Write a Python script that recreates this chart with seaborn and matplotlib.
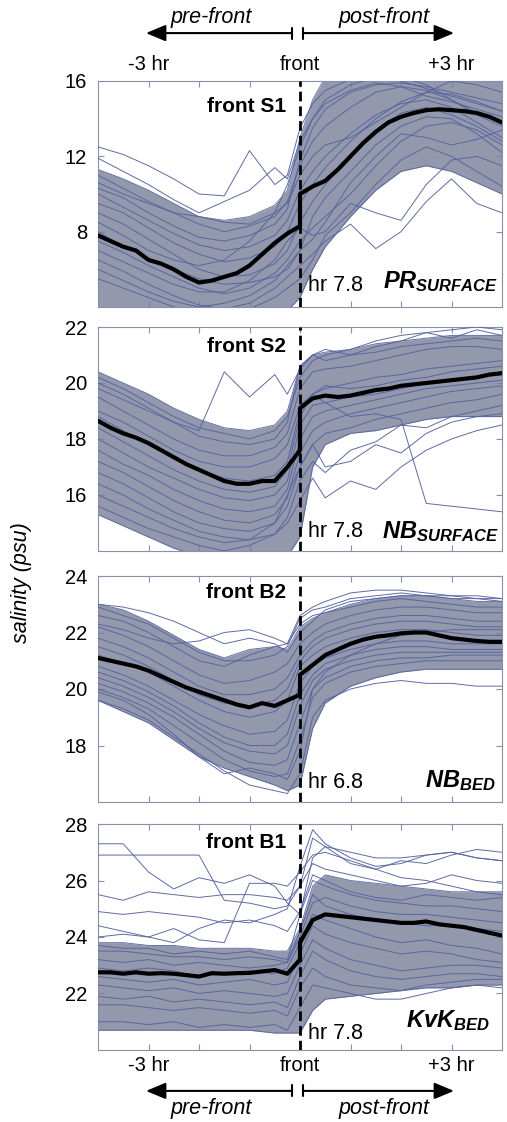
import matplotlib
matplotlib.use("Agg")
import matplotlib.pyplot as plt
import numpy as np
import pandas as pd
import seaborn as sns

# ---------------- data ----------------
HOURS = [-4, -3.5, -3, -2.5, -2, -1.5, -1, -0.5, -0.25, 0, 0.25, 0.5, 1, 1.5, 2, 2.5, 3, 3.5, 4]
MEAN_HOURS = [-4, -3.75, -3.5, -3.25, -3, -2.75, -2.5, -2.25, -2, -1.75, -1.5, -1.25, -1, -0.75,
              -0.5, -0.25, 0, 0, 0.25, 0.5, 0.75, 1, 1.25, 1.5, 1.75, 2, 2.25, 2.5, 2.75, 3,
              3.25, 3.5, 3.75, 4]

STATIONS = ["PR", "NB", "NB", "KvK"]
DEPTHS = ["SURFACE", "SURFACE", "BED", "BED"]
FRONT_NAMES = ["front S1", "front S2", "front B2", "front B1"]
FRONT_HOURS = ["hr 7.8", "hr 7.8", "hr 6.8", "hr 7.8"]
YTICKS = [[8, 12, 16], [16, 18, 20, 22], [18, 20, 22, 24], [22, 24, 26, 28]]
YLIMS = [(4, 16), (14, 22), (16, 24), (20, 28)]
XTICKS = [-3, -2, -1, 0, 1, 2, 3]
XTICK_LABELS = ["-3 hr", "", "", "front", "", "", "+3 hr"]

# ensemble mean (thick black)
MEAN_PR_S = [7.8, 7.5, 7.2, 7.0, 6.5, 6.3, 6.0, 5.6, 5.3, 5.4, 5.6, 5.8, 6.2, 6.8, 7.4, 7.9,
             8.3, 10.0, 10.4, 10.7, 11.3, 12.0, 12.7, 13.3, 13.8, 14.1, 14.3, 14.45, 14.5,
             14.45, 14.4, 14.3, 14.1, 13.8]
MEAN_NB_S = [18.65, 18.4, 18.2, 18.05, 17.85, 17.6, 17.35, 17.1, 16.9, 16.7, 16.5, 16.4, 16.4,
             16.5, 16.5, 17.0, 17.6, 19.1, 19.45, 19.55, 19.5, 19.55, 19.65, 19.75, 19.8, 19.9,
             19.95, 20.0, 20.05, 20.1, 20.15, 20.2, 20.3, 20.35]
MEAN_NB_B = [21.1, 21.0, 20.9, 20.8, 20.65, 20.45, 20.25, 20.05, 19.9, 19.75, 19.6, 19.45, 19.35,
             19.5, 19.4, 19.6, 19.8, 20.5, 20.85, 21.2, 21.4, 21.6, 21.75, 21.85, 21.9, 21.97,
             22.0, 22.0, 21.9, 21.8, 21.75, 21.7, 21.67, 21.67]
MEAN_KVK_B = [22.75, 22.75, 22.7, 22.75, 22.7, 22.72, 22.7, 22.65, 22.6, 22.72, 22.7, 22.72,
              22.73, 22.78, 22.83, 22.7, 23.2, 23.8, 24.6, 24.8, 24.75, 24.7, 24.65, 24.6, 24.55,
              24.5, 24.5, 24.55, 24.45, 24.4, 24.35, 24.25, 24.15, 24.05]

# dense envelope of the individual fronts
UPPER_PR_S = [11.3, 10.8, 10.2, 9.5, 8.8, 8.6, 8.8, 9.4, 10.2, 13.0, 15.0, 16.2, 16.2, 16.2, 16.2, 16.2, 16.2, 16.2, 16.2]
LOWER_PR_S = [3.8, 3.8, 3.8, 3.8, 3.8, 3.8, 3.8, 3.8, 3.8, 4.5, 6.0, 7.2, 8.8, 10.2, 11.2, 11.5, 11.2, 10.6, 10.0]
UPPER_NB_S = [20.4, 20.0, 19.6, 19.1, 18.7, 18.4, 18.3, 18.5, 19.0, 20.6, 21.0, 21.1, 21.2, 21.4, 21.5, 21.6, 21.7, 21.7, 21.7]
LOWER_NB_S = [15.3, 14.9, 14.5, 14.1, 13.8, 13.8, 13.8, 13.8, 13.8, 14.5, 17.0, 17.8, 18.2, 18.3, 18.5, 18.7, 18.8, 18.8, 18.8]
UPPER_NB_B = [23.0, 22.8, 22.4, 21.9, 21.4, 21.1, 21.4, 21.5, 21.4, 22.2, 22.5, 22.7, 23.0, 23.2, 23.3, 23.3, 23.2, 23.1, 23.1]
LOWER_NB_B = [19.6, 19.2, 18.8, 18.2, 17.6, 17.2, 16.9, 16.6, 16.4, 16.6, 18.6, 19.5, 20.1, 20.4, 20.6, 20.7, 20.7, 20.7, 20.7]
UPPER_KVK_B = [23.8, 23.8, 23.7, 23.7, 23.6, 23.6, 23.6, 23.5, 23.5, 24.3, 25.8, 26.2, 26.0, 25.9, 25.8, 25.7, 25.6, 25.6, 25.6]
LOWER_KVK_B = [20.7, 20.7, 20.7, 20.7, 20.7, 20.7, 20.7, 20.6, 20.6, 20.6, 21.4, 21.8, 21.9, 22.0, 22.1, 22.2, 22.2, 22.3, 22.3]

# individual front records (sample)
MEMBERS_PR_S = [
    [12.5, 12.1, 11.5, 10.8, 10.0, 9.9, 12.3, 10.5, 11.0, 13.5, 14.8, 15.5, 16.1, 16.3, 16.0, 15.6, 15.2, 14.8, 14.4],
    [11.9, 11.2, 10.5, 9.7, 9.0, 9.6, 10.2, 11.4, 10.8, 12.8, 14.0, 14.8, 15.5, 15.9, 15.7, 15.2, 14.9, 14.5, 14.1],
    [11.0, 10.3, 9.6, 9.0, 8.4, 8.0, 8.3, 8.8, 9.6, 11.5, 12.8, 13.6, 14.6, 15.4, 15.7, 15.5, 15.0, 14.2, 13.6],
    [10.0, 9.3, 8.6, 7.9, 7.3, 7.0, 7.2, 7.8, 8.6, 10.2, 11.2, 12.0, 13.2, 14.2, 14.8, 15.0, 14.6, 13.8, 13.0],
    [9.0, 8.4, 7.6, 6.8, 6.0, 5.6, 5.7, 6.3, 7.0, 8.5, 9.6, 10.5, 12.0, 13.4, 14.3, 14.6, 14.2, 13.6, 12.8],
    [7.5, 6.9, 6.2, 5.6, 5.0, 4.7, 5.0, 5.8, 6.5, 7.5, 8.2, 8.8, 10.0, 11.5, 12.8, 13.6, 13.8, 13.4, 12.6],
    [6.5, 5.9, 5.2, 4.6, 4.1, 3.9, 4.2, 5.0, 5.6, 6.2, 6.8, 7.5, 8.4, 7.1, 8.0, 9.6, 10.8, 9.5, 9.0],
    [5.5, 5.0, 4.5, 4.0, 3.8, 3.8, 3.9, 4.5, 5.0, 5.5, 6.5, 7.8, 9.0, 10.5, 11.8, 12.5, 12.0, 11.2, 10.4],
    [8.5, 7.8, 7.0, 6.5, 6.2, 6.5, 7.5, 9.0, 10.5, 12.5, 14.0, 15.0, 15.8, 16.2, 16.2, 15.8, 15.0, 14.3, 13.8],
    [10.6, 10.0, 9.5, 9.0, 8.8, 8.5, 8.4, 9.0, 9.5, 11.0, 12.0, 12.6, 13.0, 13.8, 14.6, 15.4, 16.0, 15.8, 15.4],
    [7.0, 6.4, 5.8, 5.2, 4.8, 4.8, 5.4, 6.5, 7.5, 8.2, 7.8, 8.0, 9.5, 9.0, 8.6, 10.5, 11.8, 12.0, 11.5],
    [9.5, 9.0, 8.2, 7.4, 6.8, 6.4, 6.6, 7.2, 8.0, 9.5, 10.5, 11.4, 12.8, 14.0, 14.9, 15.4, 15.3, 14.9, 14.4],
    [8.0, 7.2, 6.6, 6.0, 5.5, 5.2, 5.3, 5.6, 6.0, 7.0, 8.8, 9.8, 11.2, 12.6, 13.6, 14.1, 14.0, 13.2, 12.2],
    [10.3, 9.8, 9.0, 8.3, 7.7, 7.5, 7.8, 8.4, 9.2, 11.8, 13.5, 14.5, 15.4, 15.8, 15.9, 15.7, 15.4, 15.1, 14.8],
    [6.0, 5.4, 4.8, 4.3, 4.0, 4.2, 4.6, 5.4, 6.2, 7.0, 7.6, 8.5, 10.6, 12.0, 13.2, 13.0, 12.6, 12.9, 13.4],
]
MEMBERS_NB_S = [
    [19.8, 19.4, 19.0, 18.6, 18.3, 20.4, 19.5, 20.3, 19.6, 20.5, 21.0, 21.2, 21.0, 21.3, 21.5, 21.8, 21.6, 21.9, 21.7],
    [20.2, 19.8, 19.3, 18.8, 18.4, 18.2, 18.0, 18.3, 18.8, 20.2, 20.8, 21.0, 21.2, 21.5, 21.7, 21.8, 21.9, 22.0, 21.9],
    [19.5, 19.0, 18.5, 18.0, 17.6, 17.4, 17.4, 17.7, 18.2, 19.8, 20.4, 20.5, 20.6, 20.8, 21.0, 21.2, 21.3, 21.3, 21.2],
    [18.8, 18.3, 17.8, 17.3, 16.9, 16.6, 16.5, 16.7, 17.2, 19.0, 19.6, 19.8, 20.0, 20.2, 20.3, 20.5, 20.6, 20.7, 20.8],
    [18.0, 17.5, 17.0, 16.6, 16.2, 15.9, 15.8, 16.0, 16.5, 18.5, 19.2, 19.3, 19.5, 19.6, 19.8, 20.0, 20.1, 20.2, 20.4],
    [17.2, 16.8, 16.3, 15.8, 15.4, 15.1, 15.0, 15.3, 15.9, 17.5, 18.3, 18.6, 18.9, 19.1, 19.3, 19.5, 19.7, 19.8, 19.9],
    [16.4, 16.0, 15.5, 15.1, 14.7, 14.5, 14.4, 14.6, 15.2, 16.5, 17.2, 16.8, 17.6, 17.9, 18.5, 18.4, 18.8, 19.0, 19.2],
    [19.0, 18.6, 18.1, 17.6, 17.2, 17.0, 17.0, 17.3, 17.8, 19.2, 19.6, 19.3, 18.8, 18.9, 18.7, 15.7, 15.6, 15.5, 15.4],
    [15.6, 15.2, 14.8, 14.5, 14.2, 14.0, 14.2, 14.6, 15.0, 15.8, 16.6, 15.9, 16.5, 16.2, 17.0, 17.6, 18.0, 18.3, 18.5],
    [16.0, 15.6, 15.2, 14.8, 14.5, 14.3, 14.4, 15.0, 16.0, 17.0, 17.8, 17.0, 17.2, 17.8, 17.5, 18.2, 18.6, 18.8, 18.9],
    [20.0, 19.6, 19.1, 18.6, 18.1, 17.9, 17.8, 18.0, 18.6, 20.6, 21.0, 20.8, 21.0, 21.1, 21.3, 21.4, 21.5, 21.6, 21.5],
    [18.4, 17.9, 17.4, 16.9, 16.5, 16.2, 16.1, 16.3, 16.9, 18.8, 19.6, 19.9, 19.8, 19.9, 20.1, 20.2, 20.4, 20.5, 20.6],
    [17.6, 17.1, 16.7, 16.2, 15.8, 15.5, 15.4, 15.6, 16.2, 18.0, 18.8, 19.0, 19.2, 19.4, 19.6, 19.8, 19.9, 20.0, 20.1],
    [16.8, 16.4, 15.9, 15.4, 15.0, 14.8, 14.7, 15.0, 15.6, 17.0, 17.8, 18.2, 18.4, 18.7, 18.9, 19.1, 19.3, 19.4, 19.6],
]
MEMBERS_NB_B = [
    [23.0, 22.9, 22.7, 22.4, 22.0, 21.6, 21.8, 21.6, 21.3, 22.0, 22.4, 22.8, 23.1, 23.2, 23.3, 23.3, 23.2, 23.2, 23.1],
    [22.6, 22.4, 22.0, 21.5, 21.0, 20.8, 21.2, 21.5, 21.6, 22.3, 22.6, 22.7, 22.9, 23.1, 23.2, 23.1, 23.0, 22.9, 22.9],
    [22.2, 21.9, 21.5, 21.0, 20.5, 20.2, 20.3, 20.6, 20.9, 21.6, 22.0, 22.3, 22.6, 22.8, 22.9, 22.9, 22.8, 22.7, 22.7],
    [21.8, 21.5, 21.1, 20.6, 20.1, 19.8, 19.8, 20.0, 20.4, 21.2, 21.7, 22.0, 22.3, 22.5, 22.6, 22.6, 22.5, 22.4, 22.4],
    [21.2, 20.9, 20.6, 20.1, 19.6, 19.2, 19.0, 19.2, 19.6, 20.8, 21.2, 21.5, 21.8, 22.0, 22.1, 22.1, 22.0, 21.9, 21.9],
    [20.8, 20.5, 20.1, 19.6, 19.1, 18.7, 18.4, 18.5, 18.9, 20.2, 20.8, 21.1, 21.4, 21.6, 21.7, 21.7, 21.6, 21.6, 21.6],
    [20.4, 20.1, 19.7, 19.2, 18.6, 18.1, 17.8, 17.7, 18.0, 19.4, 20.3, 20.7, 21.0, 21.2, 21.3, 21.3, 21.3, 21.3, 21.3],
    [20.0, 19.7, 19.3, 18.7, 18.1, 17.5, 17.1, 16.9, 17.0, 18.2, 19.7, 20.2, 20.6, 20.8, 20.9, 21.0, 21.0, 21.0, 21.0],
    [19.6, 19.3, 18.9, 18.3, 17.7, 17.1, 16.6, 16.4, 16.3, 17.0, 19.0, 19.6, 20.0, 20.2, 20.3, 20.2, 20.2, 20.1, 20.1],
    [22.3, 22.1, 21.8, 21.6, 21.7, 22.0, 22.1, 21.8, 21.6, 22.6, 22.9, 23.1, 23.4, 23.5, 23.5, 23.4, 23.3, 23.3, 23.2],
    [19.9, 19.6, 19.1, 18.4, 17.6, 17.0, 17.2, 17.0, 16.8, 17.8, 20.0, 20.6, 21.2, 21.6, 21.9, 22.0, 22.1, 22.1, 22.1],
    [22.9, 22.6, 22.3, 21.8, 21.3, 21.0, 21.0, 21.2, 21.5, 22.5, 22.8, 22.9, 23.2, 23.3, 23.4, 23.3, 23.3, 23.2, 23.2],
    [21.5, 21.2, 20.8, 20.3, 19.8, 19.5, 19.4, 19.6, 20.0, 21.0, 21.5, 21.8, 22.1, 22.3, 22.4, 22.4, 22.3, 22.2, 22.2],
    [20.6, 20.3, 19.9, 19.4, 18.8, 18.3, 18.0, 18.0, 18.4, 19.8, 20.5, 20.9, 21.2, 21.4, 21.5, 21.5, 21.4, 21.4, 21.4],
    [20.2, 19.9, 19.5, 19.0, 18.4, 17.8, 17.4, 17.3, 17.5, 18.8, 20.0, 20.4, 20.8, 21.0, 21.1, 21.1, 21.2, 21.2, 21.2],
]
MEMBERS_KVK_B = [
    [27.3, 27.3, 26.3, 25.7, 26.1, 25.9, 26.2, 25.8, 25.2, 24.8, 26.8, 27.2, 27.0, 26.8, 26.8, 26.9, 27.0, 26.8, 26.7],
    [26.9, 26.9, 26.9, 26.9, 26.9, 25.3, 25.2, 25.0, 25.1, 25.8, 26.6, 26.4, 26.2, 26.0, 25.8, 25.9, 26.2, 26.0, 25.9],
    [25.5, 25.3, 25.6, 25.5, 25.4, 25.5, 25.5, 25.4, 25.3, 25.8, 27.5, 27.2, 26.6, 26.4, 26.7, 26.6, 26.9, 27.1, 27.0],
    [24.9, 24.8, 24.9, 24.8, 24.7, 24.5, 24.6, 24.4, 24.2, 24.9, 26.2, 26.0, 25.6, 25.4, 25.3, 25.5, 25.4, 25.3, 25.4],
    [24.4, 24.2, 24.0, 24.3, 23.9, 23.8, 25.9, 25.9, 25.8, 26.3, 26.9, 27.0, 26.7, 26.4, 26.1, 26.0, 25.8, 25.6, 25.5],
    [23.5, 23.5, 23.4, 23.3, 23.3, 23.2, 23.3, 23.2, 23.1, 24.0, 25.2, 25.4, 25.1, 24.9, 24.8, 24.8, 24.7, 24.6, 24.5],
    [22.9, 22.8, 22.9, 22.8, 22.6, 22.7, 22.8, 22.7, 22.9, 23.8, 24.8, 24.6, 24.3, 24.0, 23.8, 23.9, 23.7, 23.6, 23.4],
    [22.3, 22.2, 22.1, 22.2, 22.0, 22.1, 22.0, 21.9, 22.0, 23.0, 23.9, 23.6, 23.2, 23.0, 22.8, 22.9, 23.0, 23.0, 22.9],
    [21.6, 21.6, 21.5, 21.4, 21.5, 21.4, 21.3, 21.4, 21.2, 22.2, 22.9, 22.6, 22.3, 22.2, 22.1, 22.3, 22.4, 22.5, 22.5],
    [21.0, 21.0, 20.9, 21.0, 20.8, 20.9, 20.8, 20.9, 20.7, 21.5, 22.3, 22.2, 22.0, 21.8, 21.8, 22.0, 22.2, 22.3, 22.2],
    [24.0, 24.1, 24.0, 23.8, 24.3, 24.6, 24.5, 24.8, 25.0, 26.5, 27.8, 27.3, 26.8, 26.5, 26.6, 26.9, 27.0, 26.8, 26.7],
    [23.2, 23.1, 23.2, 23.0, 23.1, 23.0, 22.9, 23.0, 23.1, 24.2, 25.5, 25.1, 24.8, 24.6, 24.5, 24.4, 24.4, 24.3, 24.2],
    [22.6, 22.5, 22.4, 22.5, 22.3, 22.4, 22.5, 22.3, 22.4, 23.4, 24.4, 24.1, 23.8, 23.6, 23.4, 23.5, 23.4, 23.2, 23.1],
    [21.9, 21.8, 21.9, 21.7, 21.8, 21.7, 21.6, 21.7, 21.5, 22.6, 23.5, 23.2, 22.8, 22.6, 22.5, 22.6, 22.7, 22.7, 22.6],
    [23.7, 23.6, 23.6, 23.4, 23.5, 23.4, 23.5, 23.3, 23.2, 24.8, 26.0, 25.8, 25.5, 25.3, 25.2, 25.1, 25.1, 25.0, 24.9],
]

MEANS = [MEAN_PR_S, MEAN_NB_S, MEAN_NB_B, MEAN_KVK_B]
UPPERS = [UPPER_PR_S, UPPER_NB_S, UPPER_NB_B, UPPER_KVK_B]
LOWERS = [LOWER_PR_S, LOWER_NB_S, LOWER_NB_B, LOWER_KVK_B]
MEMBERS = [MEMBERS_PR_S, MEMBERS_NB_S, MEMBERS_NB_B, MEMBERS_KVK_B]

# ---------------- style ----------------
sns.set_theme(style="ticks")
plt.rcParams["font.family"] = ["Liberation Sans", "DejaVu Sans"]
plt.rcParams["text.color"] = "black"
plt.rcParams["mathtext.fontset"] = "custom"
plt.rcParams["mathtext.it"] = "Liberation Sans:italic:bold"
plt.rcParams["mathtext.rm"] = "Liberation Sans:bold"

FILL_C = "#787e97"
LINE_C = "#56639e"
FRAME_C = "#8a90aa"

W_PX, H_PX = 507, 1122
fig = plt.figure(figsize=(W_PX / 100, H_PX / 100), dpi=100)
LEFT, RIGHT = 98, 502
PANELS_PX = [(81, 307), (327, 551), (576, 802), (824, 1050)]
NAME_Y = [0.885, 0.911, 0.925, 0.920]
HR_Y = [0.097, 0.085, 0.088, 0.075]
ST_X = [0.990, 0.990, 0.983, 0.970]
ST_Y = [0.084, 0.058, 0.066, 0.100]

axes = []
for i, (top, bot) in enumerate(PANELS_PX):
    ax = fig.add_axes([LEFT / W_PX, 1 - bot / H_PX, (RIGHT - LEFT) / W_PX, (bot - top) / H_PX])
    axes.append(ax)

    ax.fill_between(HOURS, LOWERS[i], UPPERS[i], color=FILL_C, alpha=0.8, lw=0, zorder=1)
    env = pd.DataFrame({"hour": HOURS * 2, "salinity": LOWERS[i] + UPPERS[i],
                        "member": [0] * len(HOURS) + [1] * len(HOURS)})
    sns.lineplot(data=env, x="hour", y="salinity", units="member", estimator=None, sort=False,
                 color=LINE_C, lw=0.7, alpha=0.9, ax=ax, legend=False, zorder=2)
    rows = []
    for m, vals in enumerate(MEMBERS[i]):
        for h, v in zip(HOURS, vals):
            rows.append({"hour": h, "salinity": v, "member": m})
    df = pd.DataFrame(rows)
    sns.lineplot(data=df, x="hour", y="salinity", units="member", estimator=None, sort=False,
                 color=LINE_C, lw=0.7, alpha=0.95, ax=ax, legend=False, zorder=3)
    sns.lineplot(x=MEAN_HOURS, y=MEANS[i], sort=False, estimator=None, color="black",
                 lw=3.0, ax=ax, zorder=5)
    ax.axvline(0, color="black", lw=2.0, linestyle=(0, (3.5, 1.8)), zorder=6)

    ax.set_xlim(-4, 4)
    ax.set_ylim(*YLIMS[i])
    ax.set_yticks(YTICKS[i])
    ax.set_xticks(XTICKS)
    ax.set_xticklabels(XTICK_LABELS)
    ax.set_xlabel("")
    ax.set_ylabel("")
    for s in ax.spines.values():
        s.set_color(FRAME_C)
        s.set_linewidth(0.8)
        s.set_visible(True)
    ax.tick_params(axis="both", direction="in", length=4, width=0.8, color=FRAME_C,
                   top=True, right=True, labelsize=14.5, labelcolor="black")
    ax.tick_params(axis="y", pad=8)
    ax.tick_params(axis="x", labelbottom=(i == 3), labeltop=(i == 0), labelsize=14.5)
    if i == 0:
        ax.tick_params(axis="x", pad=5)
    if i == 3:
        ax.tick_params(axis="x", pad=4)

    ax.text(-0.28, NAME_Y[i], FRONT_NAMES[i], transform=ax.get_xaxis_transform(),
            ha="right", va="center", fontsize=15, fontweight="bold", color="black", zorder=7)
    ax.text(0.16, HR_Y[i], FRONT_HOURS[i], transform=ax.get_xaxis_transform(),
            ha="left", va="center", fontsize=15.5, color="black", zorder=7)
    ax.text(ST_X[i], ST_Y[i], r"$\mathit{%s}_{\mathit{%s}}$" % (STATIONS[i], DEPTHS[i]),
            transform=ax.transAxes, ha="right", va="baseline", fontsize=17, color="black",
            zorder=7)

fig.text(22 / W_PX, 1 - 583 / H_PX, "salinity (psu)", rotation=90, style="italic",
         fontsize=15.5, ha="center", va="center", color="black")


def arrows(ax, y_arrow, y_text):
    tr = ax.get_xaxis_transform()
    kw = dict(arrowstyle="-|>,head_length=0.6,head_width=0.25", color="black", lw=1.5,
              mutation_scale=20, shrinkA=0, shrinkB=0)
    ax.annotate("", xy=(-3.05, y_arrow), xytext=(-0.16, y_arrow), xycoords=tr,
                textcoords=tr, arrowprops=kw, annotation_clip=False)
    ax.annotate("", xy=(3.05, y_arrow), xytext=(0.06, y_arrow), xycoords=tr,
                textcoords=tr, arrowprops=kw, annotation_clip=False)
    for xb in (-0.16, 0.06):
        ax.plot([xb, xb], [y_arrow - 0.024, y_arrow + 0.024], color="black", lw=1.5,
                transform=tr, clip_on=False)
    ax.text(-1.75, y_text, "pre-front", transform=tr, ha="center", va="center",
            style="italic", fontsize=15.5, color="black")
    ax.text(1.66, y_text, "post-front", transform=tr, ha="center", va="center",
            style="italic", fontsize=15.5, color="black")


arrows(axes[0], 1.212, 1.283)
arrows(axes[3], -0.181, -0.257)

fig.savefig("out.png", dpi=100)
